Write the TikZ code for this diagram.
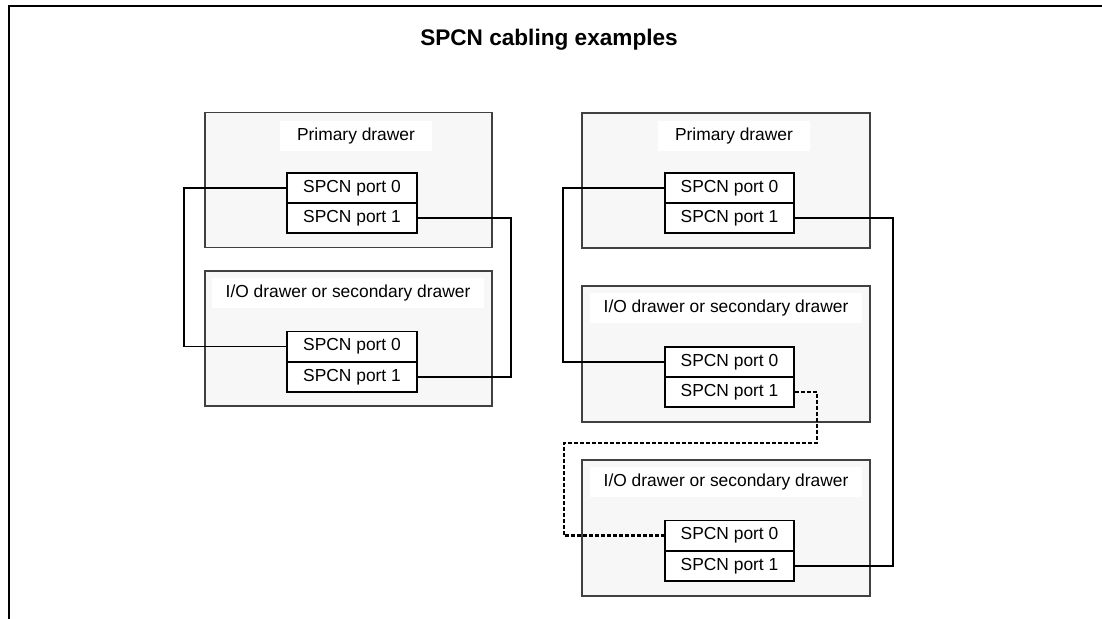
\documentclass[tikz,border=0pt]{standalone}
\usepackage{fontspec}
\setmainfont{Liberation Sans}
\begin{document}
\begin{tikzpicture}[x=0.5pt,y=-0.5pt,
  drawer/.style={draw=black!75,line width=0.8pt,fill=black!3,minimum width=143.5pt,minimum height=67.5pt,inner sep=0pt},
  dtitle/.style={fill=white,minimum height=15pt,inner sep=0pt,font=\fontsize{8.7}{10}\selectfont},
  port/.style={draw=black,line width=0.75pt,fill=white,minimum width=65pt,minimum height=15pt,inner sep=0pt,font=\fontsize{8.7}{10}\selectfont},
  cable/.style={draw=black,line width=0.6pt},
  dcable/.style={draw=black,line width=1.1pt,dash pattern=on 2pt off 1pt}]
\useasboundingbox (0,0) rectangle (1102,619);
% frame
\draw[line width=1pt] (9,619) -- (9,6) -- (1102,6);
\node[font=\bfseries\fontsize{11.3}{13}\selectfont] (title) at (549,40) {SPCN cabling examples};
% ---------- left example ----------
\node[drawer] (L1) at (348.5,180) {};
\node[drawer] (L2) at (348.5,338.5) {};
\node[dtitle,minimum width=76pt] (L1t) at (356,136) {Primary drawer};
\node[dtitle,minimum width=136pt] (L2t) at (348,293) {I/O drawer or secondary drawer};
\coordinate (cL) at (184,0);
\coordinate (cR) at (511,0);
\node[port] (L1a) at (352,188) {SPCN port 0};
\node[port] (L1b) at (352,218) {SPCN port 1};
\node[port] (L2a) at (352,346.5) {SPCN port 0};
\node[port] (L2b) at (352,377) {SPCN port 1};
\draw[cable] (L1a.west) -- (L1a.west -| cL) |- (L2a.west);
\draw[cable] (L1b.east) -- (L1b.east -| cR) |- (L2b.east);
% ---------- right example ----------
\node[drawer,minimum width=144pt] (R1) at (726,180.5) {};
\node[drawer,minimum width=144pt,minimum height=68pt] (R2) at (726,354) {};
\node[drawer,minimum width=144pt,minimum height=68pt] (R3) at (726,528) {};
\node[dtitle,minimum width=76pt] (R1t) at (734,136) {Primary drawer};
\node[dtitle,minimum width=136pt] (R2t) at (726,308) {I/O drawer or secondary drawer};
\node[dtitle,minimum width=136pt] (R3t) at (726,482) {I/O drawer or secondary drawer};
\node[port,minimum width=64.5pt] (R1a) at (729.5,188) {SPCN port 0};
\node[port,minimum width=64.5pt] (R1b) at (729.5,218) {SPCN port 1};
\node[port,minimum width=64.5pt] (R2a) at (729.5,362) {SPCN port 0};
\node[port,minimum width=64.5pt] (R2b) at (729.5,392) {SPCN port 1};
\node[port,minimum width=64.5pt] (R3a) at (729.5,535.5) {SPCN port 0};
\node[port,minimum width=64.5pt] (R3b) at (729.5,566) {SPCN port 1};
\coordinate (rL) at (563,0);
\coordinate (rR) at (893,0);
\coordinate (d1) at (817,443);
\coordinate (d2) at (564,443);
\draw[cable] (R1a.west) -- (R1a.west -| rL) |- (R2a.west);
\draw[cable] (R1b.east) -- (R1b.east -| rR) |- (R3b.east);
\draw[dcable] (R2b.east) -| (d1) -- (d2) |- (R3a.west);
\end{tikzpicture}
\end{document}
